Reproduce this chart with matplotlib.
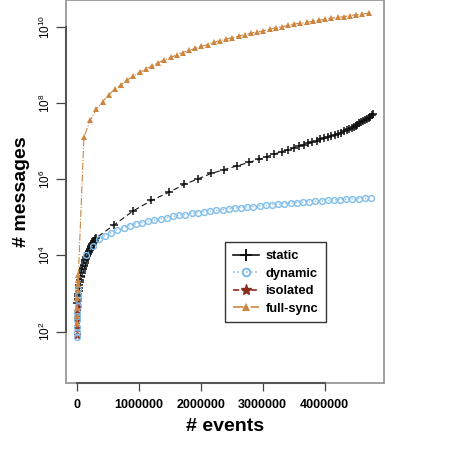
import numpy as np
import matplotlib
matplotlib.use("Agg")
import matplotlib.pyplot as plt
from matplotlib.lines import Line2D
from matplotlib.ticker import FixedLocator, LogFormatterSciNotation, NullLocator

plt.rcParams['font.family'] = ['Liberation Sans', 'DejaVu Sans']

# ---- data (x = # events, y given as log10 of # messages) ----
static_x = [5000, 10000, 15000, 20000, 25000, 30000, 37000, 45000, 52000,
            60000, 67000, 75000, 82000, 90000, 97000, 105000, 112000, 120000,
            127000, 135000, 142000, 150000, 157000, 165000, 172000, 180000,
            187000, 195000, 202000, 210000, 217000, 225000, 232000, 240000,
            247000, 255000, 262000, 270000, 277000, 285000, 292000, 300000,
            590000, 900000, 1200000, 1490000, 1730000, 1960000, 2170000,
            2380000, 2590000, 2780000, 2940000, 3070000, 3190000, 3310000,
            3410000, 3500000, 3580000, 3660000, 3730000, 3800000, 3870000,
            3930000, 3990000, 4050000, 4110000, 4160000, 4210000, 4260000,
            4310000, 4360000, 4400000, 4440000, 4470000, 4500000, 4530000,
            4560000, 4590000, 4620000, 4650000, 4680000, 4710000, 4740000,
            4760000, 4780000]
static_log = [2.75, 2.85, 2.93, 3.00, 3.07, 3.14, 3.22, 3.30, 3.36,
              3.42, 3.47, 3.53, 3.58, 3.63, 3.67, 3.72, 3.76, 3.80,
              3.84, 3.88, 3.91, 3.95, 3.98, 4.01, 4.04, 4.07, 4.09,
              4.12, 4.15, 4.17, 4.20, 4.22, 4.24, 4.27, 4.29, 4.31,
              4.33, 4.35, 4.37, 4.39, 4.42, 4.45,
              4.79, 5.16, 5.44, 5.66, 5.86, 6.01, 6.15, 6.25, 6.35, 6.44,
              6.52, 6.59, 6.66, 6.72, 6.77, 6.82, 6.86, 6.90, 6.94, 6.98,
              7.01, 7.04, 7.07, 7.10, 7.13, 7.16, 7.19, 7.22, 7.25, 7.28,
              7.31, 7.34, 7.37, 7.40, 7.43, 7.46, 7.49, 7.52, 7.55, 7.58,
              7.61, 7.64, 7.67, 7.70]

dynamic_x = [1000, 1500, 2000, 3000, 4000, 5000, 7000, 10000, 14000, 20000,
             150000, 250000, 350000, 450000, 550000, 650000, 750000, 850000,
             950000, 1050000, 1150000, 1250000, 1350000, 1450000, 1550000,
             1650000, 1750000, 1850000, 1950000, 2050000, 2150000, 2250000,
             2350000, 2450000, 2550000, 2650000, 2750000, 2850000, 2950000,
             3050000, 3150000, 3250000, 3350000, 3450000, 3550000, 3650000,
             3750000, 3850000, 3950000, 4050000, 4150000, 4250000, 4350000,
             4450000, 4550000, 4650000, 4750000]
dynamic_log = [1.85, 2.00, 2.13, 2.30, 2.42, 2.52, 2.66, 2.82, 2.96, 3.12,
               4.00, 4.25, 4.42, 4.52, 4.60, 4.67, 4.73, 4.78, 4.83, 4.86,
               4.90, 4.93, 4.96, 4.99, 5.02, 5.05, 5.07, 5.10, 5.12, 5.14,
               5.16, 5.18, 5.20, 5.22, 5.24, 5.25, 5.27, 5.28, 5.30, 5.31,
               5.33, 5.34, 5.36, 5.37, 5.38, 5.39, 5.40, 5.42, 5.43, 5.44,
               5.45, 5.46, 5.47, 5.48, 5.49, 5.50, 5.51]

isolated_x = [1000, 2000, 3000, 5000, 7000, 10000]
isolated_log = [1.90, 2.10, 2.30, 2.50, 2.65, 2.80]

fullsync_x = [1000, 2000, 3000, 5000, 7000, 10000, 14000, 20000,
              110000, 210000, 310000, 410000, 510000, 610000, 710000, 810000,
              910000, 1010000, 1110000, 1210000, 1310000, 1410000, 1510000,
              1610000, 1710000, 1810000, 1910000, 2010000, 2110000, 2210000,
              2310000, 2410000, 2510000, 2610000, 2710000, 2810000, 2910000,
              3010000, 3110000, 3210000, 3310000, 3410000, 3510000, 3610000,
              3710000, 3810000, 3910000, 4010000, 4110000, 4210000, 4310000,
              4410000, 4510000, 4610000, 4710000]
fullsync_log = [2.23, 2.40, 2.61, 2.87, 3.09, 3.25, 3.36, 3.49,
                7.10, 7.54, 7.83, 8.03, 8.21, 8.36, 8.47, 8.59, 8.70, 8.80,
                8.89, 8.97, 9.05, 9.13, 9.19, 9.26, 9.32, 9.38, 9.43, 9.48,
                9.53, 9.59, 9.63, 9.68, 9.71, 9.75, 9.79, 9.83, 9.86, 9.89,
                9.93, 9.97, 10.00, 10.03, 10.07, 10.09, 10.11, 10.14, 10.17,
                10.19, 10.22, 10.24, 10.26, 10.29, 10.31, 10.33, 10.35]

x_ticks = [0, 1000000, 2000000, 3000000, 4000000]
y_ticks = [1e2, 1e4, 1e6, 1e8, 1e10]

c_static = '#111111'
c_dynamic = '#7fbdea'
c_isolated = '#8b2a1a'
c_full = '#cd853f'

fig = plt.figure(figsize=(4.5, 4.5), dpi=100)
ax = fig.add_axes([66 / 450, 66.7 / 450, 318 / 450, 383 / 450])

ax.plot(static_x, np.power(10.0, static_log), color=c_static, lw=0.8,
        ls=(0, (5, 3)), marker='+', ms=5.8, mew=1.1)
ax.plot(isolated_x, np.power(10.0, isolated_log), color=c_isolated, lw=0.8,
        ls='--', marker='*', ms=5)
ax.plot(dynamic_x, np.power(10.0, dynamic_log), color=c_dynamic, lw=0.9,
        ls=':', marker='o', ms=4.2, mfc='none', mew=1.0)
ax.plot(fullsync_x, np.power(10.0, fullsync_log), color=c_full, lw=0.8,
        ls='-.', marker='^', ms=5, mew=0)

ax.set_yscale('log')
ax.set_xlim(-0.18e6, 4.96e6)
ax.set_ylim(10 ** 0.645, 10 ** 10.69)

ax.xaxis.set_major_locator(FixedLocator(x_ticks))
ax.set_xticklabels([str(v) for v in x_ticks], fontsize=9, fontweight='bold')
ax.yaxis.set_major_locator(FixedLocator(y_ticks))
ax.yaxis.set_major_formatter(LogFormatterSciNotation())
ax.yaxis.set_minor_locator(NullLocator())
for lab in ax.get_yticklabels():
    lab.set_rotation(90)
    lab.set_va('center')
ax.tick_params(axis='y', labelsize=8.5, length=7, width=0.9, color='#444444', pad=2)
ax.tick_params(axis='x', length=6, width=0.9, color='#444444', pad=5)

for s in ax.spines.values():
    s.set_color('#999999')
    s.set_linewidth(1.3)
# darker axis lines over the tick range, as R draws them
ax.plot([0, 4000000], [10 ** 0.645] * 2, color='#555555', lw=1.5, clip_on=False, zorder=5)
ax.plot([-0.18e6] * 2, [1e2, 1e10], color='#555555', lw=1.5, clip_on=False, zorder=5)

ax.set_xlabel('# events', fontsize=14, fontweight='bold', labelpad=5)
ax.set_ylabel('# messages', fontsize=14, fontweight='bold', labelpad=6)

handles = [
    Line2D([], [], color=c_static, lw=1.2, ls='-', marker='+', ms=9, mew=1.4),
    Line2D([], [], color=c_dynamic, lw=1.2, ls=':', marker='o', ms=5.5, mfc='none', mew=1.5),
    Line2D([], [], color=c_isolated, lw=1.2, ls='--', marker='*', ms=8),
    Line2D([], [], color=c_full, lw=1.2, ls='-.', marker='^', ms=6, mew=0),
]
leg = ax.legend(handles, ['static', 'dynamic', 'isolated', 'full-sync'],
                loc='upper left', bbox_to_anchor=(0.501, 0.368),
                borderaxespad=0, fancybox=False, framealpha=1,
                edgecolor='#333333', prop={'size': 9.3, 'weight': 'bold'},
                handlelength=2.0, handletextpad=0.5, labelspacing=0.42,
                borderpad=0.6)
leg.get_frame().set_linewidth(1.0)

fig.savefig('out.png', dpi=100)
